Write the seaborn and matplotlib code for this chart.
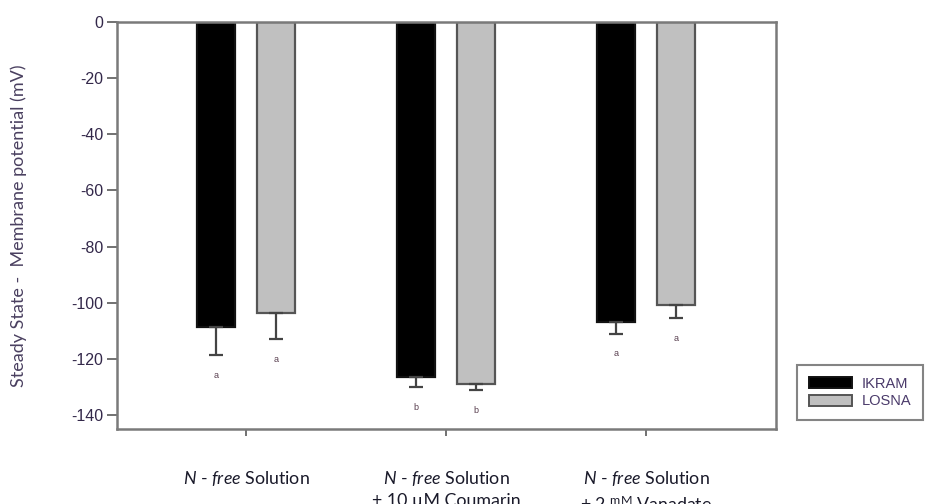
import pandas as pd
import numpy as np
import seaborn as sns
import matplotlib.pyplot as plt
from matplotlib.patches import Patch

# values
conditions = ['nfree', 'coumarin', 'vanadate']
cultivars = ['IKRAM', 'LOSNA']
ikram_mean = [-108.7, -126.6, -107.0]
ikram_err = [10.0, 3.4, 4.0]
losna_mean = [-103.8, -129.0, -100.8]
losna_err = [9.2, 2.2, 4.6]
ikram_letters = ['a', 'b', 'a']
losna_letters = ['a', 'b', 'a']
tick_labels = [
    r'$\it{N}$ - $\it{free}$ Solution',
    '$\\it{N}$ - $\\it{free}$ Solution\n+ 10 \u00b5M Coumarin',
    '$\\it{N}$ - $\\it{free}$ Solution\n+ 2 $^{\\rm mM}$ Vanadate',
]
y_ticks = [0, -20, -40, -60, -80, -100, -120, -140]

df = pd.DataFrame({
    'condition': conditions * 2,
    'cultivar': [cultivars[0]] * 3 + [cultivars[1]] * 3,
    'value': ikram_mean + losna_mean,
})

sns.set_style('white')
plt.rcParams['font.family'] = ['Liberation Sans', 'DejaVu Sans']
plt.rcParams['mathtext.fontset'] = 'custom'
plt.rcParams['mathtext.rm'] = 'Lato'
plt.rcParams['mathtext.it'] = 'Lato:italic'

fig = plt.figure(figsize=(9.34, 5.04), dpi=100)
ax = fig.add_axes([117 / 934, 1 - 429 / 504, (776 - 117) / 934, (429 - 22) / 504])

sns.barplot(data=df, x='condition', y='value', hue='cultivar', order=conditions,
            hue_order=cultivars, palette=['black', '#c0c0c0'], errorbar=None,
            width=0.6, gap=0.38, linewidth=1.6, legend=False, ax=ax)

edge_cols = ['#111111', '#555555']
errs = [ikram_err, losna_err]
letters = [ikram_letters, losna_letters]
bar_conts = list(ax.containers)
for k, cont in enumerate(bar_conts):
    xs, ys = [], []
    for bar in cont:
        bar.set_edgecolor(edge_cols[k])
        xs.append(bar.get_x() + bar.get_width() / 2)
        ys.append(bar.get_y() + bar.get_height())
    xs, ys = np.array(xs), np.array(ys)
    e = np.array(errs[k])
    ax.errorbar(xs, ys, yerr=[e, np.zeros_like(e)], fmt='none', ecolor='#444444',
                elinewidth=1.6, capsize=4.8, capthick=1.6, zorder=1)
    for x, y, ee, lab in zip(xs, ys, e, letters[k]):
        ax.text(x, y - ee - 7.2, lab, ha='center', va='center', fontsize=6.5,
                color='#5a4050')

ax.set_ylim(-145, 0)
ax.set_xlim(-0.645, 2.65)
ax.set_yticks(y_ticks)
ax.set_yticklabels([str(v) for v in y_ticks], fontsize=11.5, color='#33284a')
ax.set_xticks(range(len(conditions)))
ax.set_xticklabels(tick_labels, fontsize=12.8, color='#1a1a2a', family='Lato',
                   linespacing=1.4, va='top')
ax.tick_params(axis='y', direction='out', length=7, width=1.3, color='#666666', pad=3, left=True)
ax.tick_params(axis='x', direction='out', length=5, width=1.3, color='#666666', pad=24, bottom=True)
ax.set_xlabel('')
ax.set_ylabel('Steady State -  Membrane potential (mV)', family='Lato', fontsize=13,
              color='#4a4060')
ax.yaxis.set_label_coords(-0.136, 0.5)

for s in ax.spines.values():
    s.set_visible(True)
    s.set_color('#7a7a7a')
    s.set_linewidth(1.8)

handles = [Patch(facecolor='black', edgecolor='#111111', linewidth=1.4),
           Patch(facecolor='#c0c0c0', edgecolor='#555555', linewidth=1.4)]
leg = fig.legend(handles, cultivars, loc='upper left', bbox_to_anchor=(797 / 934, 1 - 365 / 504),
                 fancybox=False, frameon=True, fontsize=10.5, handlelength=2.95,
                 handleheight=0.8, labelspacing=0.25, borderpad=0.8, handletextpad=0.7,
                 borderaxespad=0)
leg.get_frame().set_edgecolor('#666666')
leg.get_frame().set_linewidth(1.5)
for t in leg.get_texts():
    t.set_color('#4a3a6a')

fig.savefig('out.png', dpi=100)
